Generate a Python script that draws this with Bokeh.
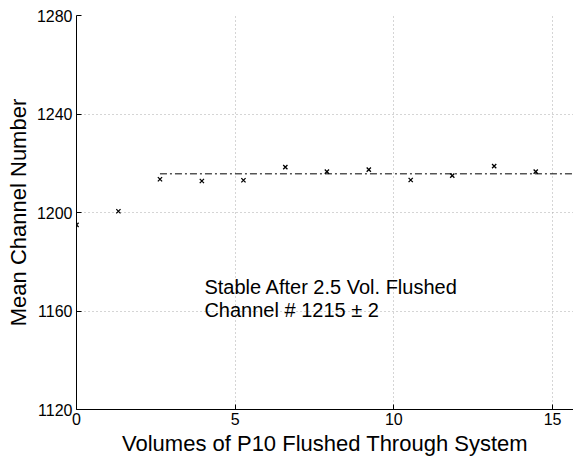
from bokeh.plotting import figure
from bokeh.models import Range1d, FixedTicker, ColumnDataSource
from bokeh.core.properties import value
from bokeh.embed import file_html
from bokeh.resources import INLINE

# Data
volumes = [0.0, 1.32, 2.63, 3.95, 5.26, 6.58, 7.89, 9.21, 10.53, 11.84, 13.16, 14.47]
mean_channel = [1195.0, 1200.5, 1213.5, 1212.8, 1213.1, 1218.4, 1216.6, 1217.4, 1213.2, 1215.0, 1218.8, 1216.6]
stable_x = [2.63, 15.8]
stable_y = [1215.7, 1215.7]
x_ticks = [0, 5, 10, 15]
y_ticks = [1120, 1160, 1200, 1240, 1280]
note_lines = ["Stable After 2.5 Vol. Flushed", "Channel # 1215 \u00b1 2"]
note_x = [4.03, 4.03]
note_y = [1169.6, 1160.3]

FONT = "Liberation Sans"

p = figure(width=573, height=459, output_backend="svg", toolbar_location=None,
           x_range=Range1d(0, 15.66), y_range=Range1d(1120, 1280),
           min_border_left=76, min_border_right=0, min_border_top=15, min_border_bottom=50)
p.outline_line_color = None
p.background_fill_color = "white"
p.border_fill_color = "white"

p.xaxis.ticker = FixedTicker(ticks=x_ticks)
p.yaxis.ticker = FixedTicker(ticks=y_ticks)
for ax in (p.xaxis, p.yaxis):
    ax.axis_line_color = "black"
    ax.axis_line_width = 1
    ax.major_tick_in = 5
    ax.major_tick_out = 0
    ax.major_tick_line_color = "black"
    ax.minor_tick_line_color = None
    ax.major_label_text_font = FONT
    ax.major_label_text_font_size = "16px"
    ax.major_label_text_color = "black"
    ax.axis_label_text_font = FONT
    ax.axis_label_text_font_style = "normal"
    ax.axis_label_text_font_size = "22px"
    ax.axis_label_text_color = "black"

p.xaxis.axis_label = "Volumes of P10 Flushed Through System"
p.yaxis.axis_label = "Mean Channel Number"
p.xaxis.major_label_standoff = 3
p.xaxis.axis_label_standoff = 3
p.yaxis.major_label_standoff = 4
p.yaxis.axis_label_standoff = 3

p.xgrid.grid_line_color = "#aaaaaa"
p.ygrid.grid_line_color = "#aaaaaa"
p.xgrid.grid_line_dash = "1 3"
p.ygrid.grid_line_dash = "1 3"
p.xgrid.grid_line_width = 1
p.ygrid.grid_line_width = 1

p.line(stable_x, stable_y, line_color="black", line_width=1, line_dash="7 3 2 3")
p.scatter(volumes, mean_channel, marker="x", size=6, line_color="black", line_width=1.3)

src = ColumnDataSource(dict(x=note_x, y=note_y, t=note_lines))
p.text(x="x", y="y", text="t", source=src, text_font=value(FONT), text_font_size="20px",
       text_color="black", text_align="left", text_baseline="middle")

open("out.html", "w").write(file_html(p, INLINE))
